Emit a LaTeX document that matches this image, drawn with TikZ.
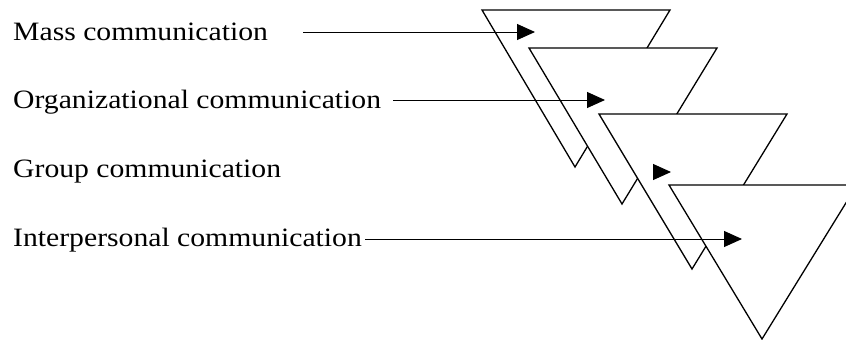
\documentclass[tikz,border=0pt]{standalone}
\usepackage{fontspec}
\setmainfont{Liberation Serif}[FakeStretch=1.12]
\usetikzlibrary{arrows.meta}
\begin{document}
\begin{tikzpicture}[x=1pt,y=-1pt,
  lbl/.style={anchor=base west,inner sep=0pt,font=\fontsize{26.5}{30}\selectfont},
  tri/.style={draw=black,fill=white,line width=1.3pt,line join=miter},
  arr/.style={draw=black,line width=1pt,-{Triangle[length=18pt,width=16pt]}}]
\useasboundingbox (0,0) rectangle (846,340);
\clip (0,0) rectangle (846,340);
\fill[white] (0,0) rectangle (846,340);
% triangles
\coordinate (t1a) at (482,10);  \coordinate (t1b) at (670,10);  \coordinate (t1c) at (575,167);
\coordinate (t2a) at (529,48);  \coordinate (t2b) at (717,48);  \coordinate (t2c) at (622,204);
\coordinate (t3a) at (599,114); \coordinate (t3b) at (787,114); \coordinate (t3c) at (692,269);
\coordinate (t4a) at (669,185); \coordinate (t4b) at (857,185); \coordinate (t4c) at (762,339);
\draw[tri] (t1a) -- (t1b) -- (t1c) -- cycle;
\draw[tri] (t2a) -- (t2b) -- (t2c) -- cycle;
\draw[tri] (t3a) -- (t3b) -- (t3c) -- cycle;
\draw[tri] (t4a) -- (t4b) -- (t4c) -- cycle;
% labels
\node[lbl] (mass)  at (13,40)  {Mass communication};
\node[lbl] (org)   at (13,108) {Organizational communication};
\node[lbl] (grp)   at (13,177) {Group communication};
\node[lbl] (inter) at (13,246) {Interpersonal communication};
% arrows
\coordinate (m0) at (303,32);  \coordinate (m1) at (535,32);
\coordinate (o0) at (393,100); \coordinate (o1) at (605,100);
\coordinate (g0) at (653,172); \coordinate (g1) at (671,172);
\coordinate (i0) at (365,239); \coordinate (i1) at (742,239);
\draw[arr] (m0) -- (m1);
\draw[arr] (o0) -- (o1);
\draw[arr] (g0) -- (g1);
\draw[arr] (i0) -- (i1);
\end{tikzpicture}
\end{document}
